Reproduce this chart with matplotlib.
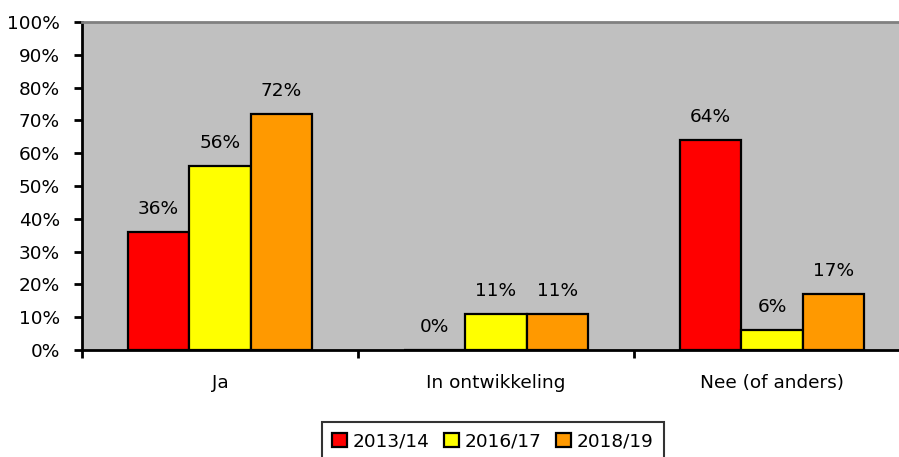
import matplotlib.pyplot as plt
import numpy as np
from matplotlib.ticker import PercentFormatter

# chart data
categories = ['Ja', 'In ontwikkeling', 'Nee (of anders)']
years = ['2013/14', '2016/17', '2018/19']
v_2013 = [36, 0, 64]
v_2016 = [56, 11, 6]
v_2018 = [72, 11, 17]
colors = ['#ff0000', '#ffff00', '#ff9900']

plt.rcParams['font.family'] = 'DejaVu Sans'
plt.rcParams['font.size'] = 13.3

fig = plt.figure(figsize=(8.99, 4.57), dpi=100)
W, H = 899, 457
ax = fig.add_axes([82 / W, 1 - 350 / H, (910 - 82) / W, (350 - 22) / H])
ax.set_facecolor('#c0c0c0')

x = np.arange(len(categories))
w = 1 / 4.5
for i, (vals, c, lab) in enumerate(zip([v_2013, v_2016, v_2018], colors, years)):
    pos = x + (i - 1) * w
    ax.bar(pos, vals, width=w, color=c, edgecolor='black', linewidth=1.6, label=lab)
    for px, v in zip(pos, vals):
        ax.annotate(f'{v}%', (px, v), xytext=(0, 10), textcoords='offset points',
                    ha='center', va='bottom')

ax.set_xlim(-0.5, len(categories) - 0.5)
ax.set_ylim(0, 100)
ax.set_yticks(np.arange(0, 101, 10))
ax.yaxis.set_major_formatter(PercentFormatter(decimals=0))

# category boundaries as tick marks, names in the middle
ax.set_xticks(np.arange(-0.5, len(categories), 1))
ax.set_xticklabels([''] * (len(categories) + 1))
ax.set_xticks(x, minor=True)
ax.set_xticklabels(categories, minor=True)
ax.tick_params(axis='x', which='minor', length=0, pad=17)
ax.tick_params(axis='y', pad=10)
ax.tick_params(axis='both', which='major', length=6, width=2, direction='out')

ax.spines['left'].set_linewidth(2)
ax.spines['bottom'].set_linewidth(2)
ax.spines['top'].set_color('#808080')
ax.spines['top'].set_linewidth(2)
ax.spines['right'].set_visible(False)

leg = fig.legend(loc='upper center', bbox_to_anchor=(493 / W, 1 - 422 / H), ncol=3,
                 frameon=True, fancybox=False, edgecolor='black', handlelength=0.8,
                 handleheight=0.8, handletextpad=0.3, columnspacing=0.8,
                 borderpad=0.55, borderaxespad=0)
leg.get_frame().set_linewidth(1.5)

fig.savefig('out.png', dpi=100)
